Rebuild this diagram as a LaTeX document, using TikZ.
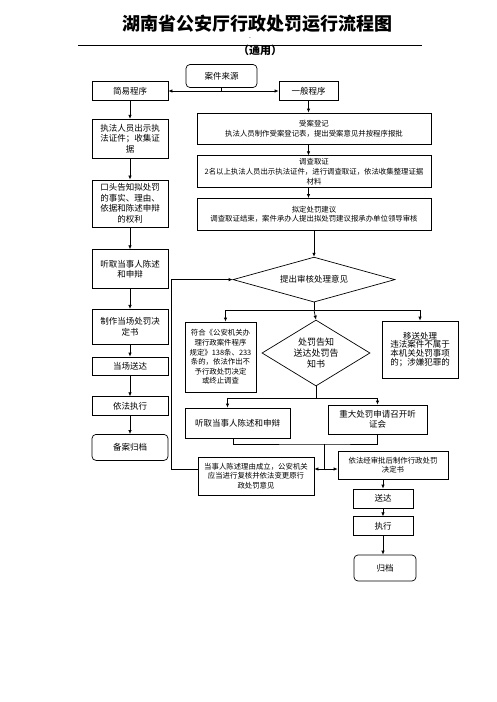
\documentclass[tikz,border=0pt]{standalone}
\usepackage{fontspec}
\setmainfont{Noto Sans CJK SC}
\usepackage{tikz}
\usetikzlibrary{shapes.geometric, arrows.meta, positioning, calc}

\begin{document}
\begin{tikzpicture}[
    x=1pt, y=-1pt,
    font=\fontsize{8.5}{10.5}\selectfont,
    node distance=12pt and 20pt,
    box/.style={
      draw=black, line width=0.7pt,
      align=center, inner sep=2pt
    },
    rbox/.style={box, rounded corners=4pt},
    decision/.style={
      diamond, draw=black, line width=0.7pt,
      align=center, inner sep=0pt
    },
    small/.style={font=\fontsize{7.4}{9.6}\selectfont},
    arr/.style={-{Latex[length=4pt, width=3.5pt]}, line width=0.7pt},
    ln/.style={line width=0.7pt}
  ]
  \useasboundingbox (0,0) rectangle (496,702);

  % heading
  \node[font=\fontsize{18}{20}\selectfont\bfseries] (title) at (257,24) {湖南省公安厅行政处罚运行流程图};
  \node[font=\fontsize{5}{5}\selectfont]          (dash)  at (250,39) {-};
  \draw[ln] (78,45) -- (422,45);
  \node[font=\fontsize{11}{12}\selectfont\bfseries] (sub) at (260,50) {（通用）};

  \node[rbox, minimum width=71pt, minimum height=23pt] (src)     at (221.5,76) {案件来源};
  \node[box,  minimum width=76pt, minimum height=19pt] (simple)  at (130,91)   {简易程序};
  \node[box,  minimum width=59pt, minimum height=19pt] (general) at (308.5,91) {一般程序};

  % simple procedure
  \node[box, minimum width=76pt, minimum height=39pt, below=18pt of simple] (show)  {执法人员出示执\\法证件；收集证\\据};
  \node[box, minimum width=76pt, minimum height=47pt, below=21pt of show]   (tell)  {口头告知拟处罚\\的事实、理由、\\依据和陈述申辩\\的权利};
  \node[box, minimum width=76pt, minimum height=39pt, below=22pt of tell]   (hear1) {听取当事人陈述\\和申辩};
  \node[box, minimum width=76pt, minimum height=35pt, below=20pt of hear1]  (dec1)  {制作当场处罚决\\定书};
  \node[box, minimum width=76pt, minimum height=18pt, below=12pt of dec1]   (del1)  {当场送达};
  \node[box, minimum width=76pt, minimum height=19pt, below=21pt of del1]   (exe1)  {依法执行};
  \node[rbox, minimum width=76pt, minimum height=26pt, below=18pt of exe1]  (arch1) {备案归档};

  % general procedure
  \node[box, small, minimum width=234pt, minimum height=31pt] (reg) at (314,128.5)
    {受案登记\\执法人员制作受案登记表，提出受案意见并按程序报批};
  \node[box, small, minimum width=234pt, minimum height=32pt, below=11pt of reg] (inv)
    {调查取证\\2名以上执法人员出示执法证件，进行调查取证，依法收集整理证据\\材料};
  \node[box, small, minimum width=234pt, minimum height=32pt, below=10pt of inv] (prop)
    {拟定处罚建议\\调查取证结束，案件承办人提出拟处罚建议报承办单位领导审核};
  \node[decision, aspect=3.6, minimum width=162pt, minimum height=45pt, below=26pt of prop] (review) {提出审核处理意见};

  \node[box, small, minimum width=71pt, minimum height=70pt] (nores) at (220.5,357)
    {符合《公安机关办\\理行政案件程序\\规定》138条、233\\条的，依法作出不\\予行政处罚决定\\或终止调查};
  \node[decision, aspect=1.64, font=\fontsize{9}{11}\selectfont, minimum width=108pt, minimum height=66pt] (notice) at (316,353)
    {处罚告知\\送达处罚告\\知书};
  \node[box, font=\fontsize{8.5}{8.8}\selectfont, minimum width=76pt, minimum height=57pt] (transfer) at (420,349.5)
    {移送处理\\违法案件不属于\\本机关处罚事项\\的；涉嫌犯罪的};

  \node[box, minimum width=105pt, minimum height=30pt] (hear2)   at (237.5,423) {听取当事人陈述和申辩};
  \node[box, minimum width=99pt,  minimum height=29pt] (hearing) at (377.5,419.5) {重大处罚申请召开听\\证会};

  \node[box, small, minimum width=116pt, minimum height=38pt] (rev) at (256,476)
    {当事人陈述理由成立，公安机关\\应当进行复核并依法变更原行\\政处罚意见};
  \node[box, small, minimum width=110pt, minimum height=28pt] (final) at (393,465)
    {依法经审批后制作行政处罚\\决定书};
  \node[box, minimum width=60pt, minimum height=19pt] (deliver) at (383,498.5) {送达};
  \node[box, minimum width=60pt, minimum height=19pt, below=8pt of deliver] (execute) {执行};
  \node[rbox, minimum width=62pt, minimum height=26pt] (archive) at (385,568) {归档};

  % connectors
  \coordinate (split) at (src.south |- simple.east);
  \draw[ln]  (src) -- (split);
  \draw[arr] (split) -- (simple);
  \draw[arr] (split) -- (general);

  \foreach \a/\b in {simple/show, show/tell, tell/hear1, hear1/dec1, dec1/del1, del1/exe1, exe1/arch1}
    \draw[arr] (\a) -- (\b);

  \draw[arr] (general) -- (general |- reg.north);
  \draw[arr] (general |- reg.south) -- (general |- inv.north);
  \draw[arr] (general |- inv.south) -- (general |- prop.north);
  \draw[arr] (prop) -- (review);

  \coordinate (fork1) at ($(review.south)+(0,8)$);
  \draw[ln]  (review.south) -- (fork1);
  \draw[arr] (fork1) -| ([xshift=5pt]nores.north);
  \draw[arr] (fork1) -- (notice.north);
  \draw[arr] (fork1) -| (transfer.north);

  \coordinate (fork2) at ($(notice.south)+(0,12)$);
  \draw[ln]  (notice.south) -- (fork2);
  \draw[arr] (fork2) -| ([xshift=-10pt]hear2.north);
  \draw[arr] (fork2) -| (hearing.north);

  \coordinate (merge) at (324,444);
  \coordinate (join)  at (324,469);
  \draw[ln]  ([xshift=-4pt]hear2.south) |- (merge) -| (hearing.south);
  \draw[ln]  (merge) -- (join);
  \draw[arr] (join) -- (join -| rev.east);
  \draw[arr] (join) -- (join -| final.west);
  \draw[arr] (join -| rev.west) -- ++(-26,0) |- (review.west);

  \draw[arr] (final.south -| deliver.north) -- (deliver.north);
  \draw[arr] (deliver) -- (execute);
  \draw[arr] (execute.south) -- (execute.south |- archive.north);
\end{tikzpicture}
\end{document}
